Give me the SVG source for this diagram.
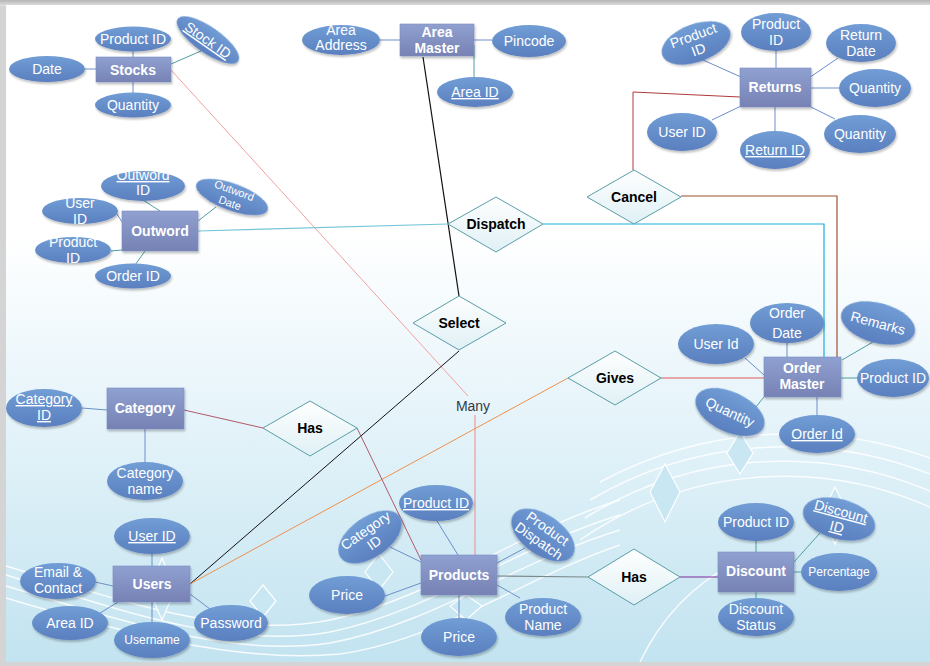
<svg xmlns="http://www.w3.org/2000/svg" width="930" height="666" viewBox="0 0 930 666">
<defs>
<linearGradient id="bg" x1="0" y1="0" x2="0" y2="1">
<stop offset="0" stop-color="#ffffff"/>
<stop offset="0.35" stop-color="#ffffff"/>
<stop offset="0.62" stop-color="#e6f4fa"/>
<stop offset="1" stop-color="#c2e3f0"/>
</linearGradient>
<linearGradient id="ga" x1="0" y1="0" x2="0" y2="1">
<stop offset="0" stop-color="#719dd5"/>
<stop offset="1" stop-color="#5a7fbf"/>
</linearGradient>
<linearGradient id="ge" x1="0" y1="0" x2="0" y2="1">
<stop offset="0" stop-color="#8fa1d1"/>
<stop offset="1" stop-color="#7781b4"/>
</linearGradient>
<linearGradient id="gd" x1="0" y1="0" x2="0" y2="1">
<stop offset="0" stop-color="#ffffff"/>
<stop offset="1" stop-color="#dff0f5"/>
</linearGradient>
<linearGradient id="gtop" x1="0" y1="0" x2="0" y2="1">
<stop offset="0" stop-color="#b5b5b5"/>
<stop offset="1" stop-color="#e2e2e2"/>
</linearGradient>
<filter id="sh" x="-20%" y="-20%" width="140%" height="150%">
<feDropShadow dx="1" dy="2" stdDeviation="1.2" flood-color="#000" flood-opacity="0.25"/>
</filter>
</defs>
<style>
.attr{fill:url(#ga);filter:url(#sh)}
.ent{fill:url(#ge);stroke:#7b8cc0;stroke-width:0.6;filter:url(#sh)}
.rel{fill:url(#gd);stroke:#5a9ea8;stroke-width:1}
.t{font-family:"Liberation Sans",Arial,sans-serif;font-size:14px;fill:#ffffff;text-anchor:middle}
.tb{font-weight:bold}
.tr{fill:#000000;font-weight:bold}
.u{text-decoration:underline}
.ln{stroke:#6b8fc9;stroke-width:1;fill:none}
.lt{stroke:#4f9ea3}
.deco{fill:none;stroke:#ffffff;stroke-width:1.5;opacity:0.85}
.dd{fill:#c9e7f3;stroke:#ffffff;stroke-width:1.2}
</style>

<!-- frame & background -->
<rect x="0" y="0" width="930" height="666" fill="#d4d4d4"/>
<rect x="0" y="0" width="930" height="6" fill="url(#gtop)"/>
<rect x="6" y="5" width="924" height="657" fill="url(#bg)"/>

<!-- decorative arcs -->
<g id="decor">
<path class="deco" d="M6,566 C120,600 230,640 330,620 C430,600 520,530 620,500"/>
<path class="deco" d="M6,575 C120,610 230,650 330,632 C430,612 520,545 620,515"/>
<path class="deco" d="M6,586 C120,620 230,658 330,643 C430,625 520,560 620,530"/>
<path class="deco" d="M6,598 C120,632 240,664 340,654 C440,640 530,575 620,545"/>
<path class="deco" d="M580,540 A360,360 0 0 1 930,507"/>
<path class="deco" d="M585,518 A375,375 0 0 1 930,491"/>
<path class="deco" d="M590,500 A390,390 0 0 1 930,474"/>
<path class="deco" d="M600,482 A405,405 0 0 1 930,458"/>
<path class="deco" d="M640,662 C660,620 690,585 740,560"/>
<polygon class="dd" points="740,432 753,453 740,474 727,453"/>
<polygon class="dd" points="665,464 680,492 665,522 650,492"/>
<polygon class="dd" points="835,487 849,515 835,544 821,515"/>
<polygon class="dd" points="162,558 175,590 162,620 149,590"/>
<polygon class="dd" points="263,585 276,601 263,617 250,601"/>
<polygon class="dd" points="379,554 393,572 379,590 365,572"/>
<polygon class="dd" points="466,595 482,606 466,620 450,606"/>
</g>

<!-- connectors -->
<g id="connectors">
<line x1="171" y1="70" x2="468" y2="396" stroke="#f2a0a0" stroke-width="1"/>
<line x1="475" y1="415" x2="475" y2="555" stroke="#f08a8a" stroke-width="1"/>
<line x1="423" y1="57" x2="459" y2="296" stroke="#111" stroke-width="1.2"/>
<line x1="459" y1="351" x2="190" y2="584" stroke="#111" stroke-width="1"/>
<line x1="198" y1="231" x2="448" y2="224" stroke="#74c5d8" stroke-width="1.2"/>
<polyline points="543,224 824,224 824,361" fill="none" stroke="#1ab0e0" stroke-width="1.2"/>
<polyline points="681,196 837,196 837,357" fill="none" stroke="#a0522d" stroke-width="1.2"/>
<polyline points="633,170 633,92 740,97" fill="none" stroke="#b03a3a" stroke-width="1"/>
<line x1="661" y1="378" x2="764" y2="378" stroke="#e05a5a" stroke-width="1.2"/>
<line x1="568" y1="378" x2="190" y2="584" stroke="#f0904e" stroke-width="1"/>
<line x1="184" y1="410" x2="263" y2="428" stroke="#b05a6a" stroke-width="1"/>
<line x1="357" y1="428" x2="421" y2="560" stroke="#b05a6a" stroke-width="1"/>
<line x1="497" y1="576" x2="588" y2="577" stroke="#7a8a8a" stroke-width="1.2"/>
<line x1="680" y1="577" x2="730" y2="577" stroke="#7a2a9a" stroke-width="1.2"/>
<!-- attribute links -->
<line class="ln" x1="85" y1="69" x2="96" y2="69"/>
<line class="ln" x1="133" y1="51" x2="133" y2="57"/>
<line class="ln" x1="133" y1="82" x2="133" y2="93"/>
<line class="ln lt" x1="171" y1="64" x2="201" y2="51"/>
<line class="ln" x1="380" y1="40" x2="400" y2="40"/>
<line class="ln" x1="474" y1="40" x2="492" y2="40"/>
<line class="ln lt" x1="474" y1="45" x2="474" y2="77"/>
<line class="ln" x1="741" y1="77" x2="703" y2="60"/>
<line class="ln" x1="776" y1="68" x2="776" y2="51"/>
<line class="ln" x1="803" y1="82" x2="838" y2="58"/>
<line class="ln" x1="811" y1="88" x2="839" y2="88"/>
<line class="ln" x1="811" y1="107" x2="835" y2="119"/>
<line class="ln" x1="775" y1="107" x2="775" y2="131"/>
<line class="ln" x1="741" y1="106" x2="712" y2="120"/>
<line class="ln lt" x1="143" y1="200" x2="160" y2="211"/>
<line class="ln" x1="117" y1="214" x2="122" y2="222"/>
<line class="ln lt" x1="111" y1="251" x2="122" y2="250"/>
<line class="ln lt" x1="135" y1="265" x2="145" y2="251"/>
<line class="ln lt" x1="198" y1="221" x2="216" y2="207"/>
<line class="ln" x1="745" y1="358" x2="764" y2="375"/>
<line class="ln" x1="787" y1="343" x2="787" y2="357"/>
<line class="ln lt" x1="842" y1="360" x2="873" y2="342"/>
<line class="ln lt" x1="841" y1="378" x2="858" y2="378"/>
<line class="ln" x1="817" y1="397" x2="817" y2="415"/>
<line class="ln lt" x1="755" y1="408" x2="764" y2="397"/>
<line class="ln" x1="82" y1="408" x2="107" y2="410"/>
<line class="ln" x1="145" y1="429" x2="145" y2="462"/>
<line class="ln" x1="152" y1="554" x2="152" y2="566"/>
<line class="ln" x1="95" y1="582" x2="113" y2="586"/>
<line class="ln" x1="100" y1="613" x2="118" y2="602"/>
<line class="ln" x1="152" y1="602" x2="152" y2="622"/>
<line class="ln" x1="190" y1="594" x2="210" y2="609"/>
<line class="ln" x1="437" y1="521" x2="458" y2="555"/>
<line class="ln" x1="390" y1="547" x2="421" y2="562"/>
<line class="ln" x1="525" y1="548" x2="497" y2="563"/>
<line class="ln" x1="385" y1="596" x2="421" y2="583"/>
<line class="ln" x1="459" y1="595" x2="459" y2="618"/>
<line class="ln" x1="520" y1="598" x2="497" y2="585"/>
<line class="ln lt" x1="756" y1="541" x2="756" y2="552"/>
<line class="ln lt" x1="794" y1="562" x2="820" y2="533"/>
<line class="ln lt" x1="794" y1="572" x2="801" y2="572"/>
<line class="ln lt" x1="756" y1="592" x2="756" y2="598"/>
</g>

<text class="t" x="473" y="411" style="fill:#333a44;font-size:14px">Many</text>

<!-- Stocks -->
<g id="stocks">
<rect class="ent" x="96" y="57" width="75" height="25"/>
<text class="t tb" x="133" y="75">Stocks</text>
<ellipse class="attr" cx="133" cy="39" rx="38" ry="12.5"/>
<text class="t" x="133" y="44">Product ID</text>
<ellipse class="attr" cx="208" cy="40" rx="37" ry="13" transform="rotate(35 208 40)"/>
<text class="t u" x="208" y="45" transform="rotate(35 208 40)">Stock ID</text>
<ellipse class="attr" cx="47" cy="69" rx="38" ry="13"/>
<text class="t" x="47" y="74">Date</text>
<ellipse class="attr" cx="133" cy="105" rx="38" ry="12.5"/>
<text class="t" x="133" y="110">Quantity</text>
</g>

<!-- Area Master -->
<g id="area-master">
<rect class="ent" x="400" y="24" width="74" height="32"/>
<text class="t tb" x="437" y="37">Area</text>
<text class="t tb" x="437" y="53">Master</text>
<ellipse class="attr" cx="341" cy="40" rx="39" ry="15"/>
<text class="t" x="341" y="35">Area</text>
<text class="t" x="341" y="50">Address</text>
<ellipse class="attr" cx="529" cy="41" rx="37" ry="16"/>
<text class="t" x="529" y="46">Pincode</text>
<ellipse class="attr" cx="475" cy="92" rx="38" ry="15"/>
<text class="t u" x="475" y="97">Area ID</text>
</g>

<!-- Returns -->
<g id="returns">
<rect class="ent" x="740" y="68" width="71" height="39"/>
<text class="t tb" x="775" y="92">Returns</text>
<ellipse class="attr" cx="696" cy="43" rx="36" ry="19" transform="rotate(-20 696 43)"/>
<text class="t" transform="rotate(-20 696 43)" x="696" y="40">Product</text>
<text class="t" transform="rotate(-20 696 43)" x="696" y="55">ID</text>
<ellipse class="attr" cx="776" cy="32" rx="35" ry="19"/>
<text class="t" x="776" y="29">Product</text>
<text class="t" x="776" y="45">ID</text>
<ellipse class="attr" cx="861" cy="43" rx="35" ry="19"/>
<text class="t" x="861" y="40">Return</text>
<text class="t" x="861" y="56">Date</text>
<ellipse class="attr" cx="875" cy="88" rx="36" ry="19"/>
<text class="t" x="875" y="93">Quantity</text>
<ellipse class="attr" cx="860" cy="134" rx="36" ry="19"/>
<text class="t" x="860" y="139">Quantity</text>
<ellipse class="attr" cx="775" cy="150" rx="35" ry="19"/>
<text class="t u" x="775" y="155">Return ID</text>
<ellipse class="attr" cx="682" cy="132" rx="35" ry="19"/>
<text class="t" x="682" y="137">User ID</text>
</g>

<!-- Outword -->
<g id="outword">
<rect class="ent" x="122" y="211" width="76" height="40"/>
<text class="t tb" x="160" y="236">Outword</text>
<ellipse class="attr" cx="143" cy="186" rx="42" ry="15"/>
<text class="t u" x="143" y="180">Outword</text>
<text class="t" x="143" y="195">ID</text>
<ellipse class="attr" cx="80" cy="211" rx="38" ry="13"/>
<text class="t" x="80" y="208">User</text>
<text class="t" x="80" y="224">ID</text>
<ellipse class="attr" cx="73" cy="250" rx="38" ry="13"/>
<text class="t" x="73" y="247">Product</text>
<text class="t" x="73" y="263">ID</text>
<ellipse class="attr" cx="133" cy="276" rx="38" ry="12.5"/>
<text class="t" x="133" y="281">Order ID</text>
<ellipse class="attr" cx="232" cy="197" rx="38" ry="13.5" transform="rotate(20 232 197)"/>
<text class="t" style="font-size:11px" transform="rotate(20 232 197)" x="232" y="194">Outword</text>
<text class="t" style="font-size:11px" transform="rotate(20 232 197)" x="232" y="207">Date</text>
</g>

<!-- Relationships -->
<g id="cancel">
<polygon class="rel" points="634,170 681,197 634,224 587,197"/>
<text class="t tr" x="634" y="202">Cancel</text>
</g>
<g id="dispatch">
<polygon class="rel" points="496,197 543,224 496,252 448,224"/>
<text class="t tr" x="496" y="229">Dispatch</text>
</g>
<g id="select">
<polygon class="rel" points="459,296 506,323 459,350 413,323"/>
<text class="t tr" x="459" y="328">Select</text>
</g>
<g id="gives">
<polygon class="rel" points="615,351 661,378 615,405 568,378"/>
<text class="t tr" x="615" y="383">Gives</text>
</g>
<g id="has-category">
<polygon class="rel" points="310,401 357,428 310,456 263,428"/>
<text class="t tr" x="310" y="433">Has</text>
</g>
<g id="has-discount">
<polygon class="rel" points="634,549 680,577 634,605 588,577"/>
<text class="t tr" x="634" y="582">Has</text>
</g>

<!-- Order Master -->
<g id="order-master">
<rect class="ent" x="764" y="357" width="77" height="40"/>
<text class="t tb" x="802" y="373">Order</text>
<text class="t tb" x="802" y="389">Master</text>
<ellipse class="attr" cx="716" cy="344" rx="38" ry="20"/>
<text class="t" x="716" y="349">User Id</text>
<ellipse class="attr" cx="787" cy="323" rx="37" ry="20"/>
<text class="t" x="787" y="318">Order</text>
<text class="t" x="787" y="338">Date</text>
<ellipse class="attr" cx="878" cy="323" rx="38" ry="20" transform="rotate(15 878 323)"/>
<text class="t" transform="rotate(15 878 323)" x="878" y="328">Remarks</text>
<ellipse class="attr" cx="893" cy="378" rx="36" ry="19"/>
<text class="t" x="893" y="383">Product ID</text>
<ellipse class="attr" cx="817" cy="434" rx="38" ry="19"/>
<text class="t u" x="817" y="439">Order Id</text>
<ellipse class="attr" cx="730" cy="412" rx="37" ry="20" transform="rotate(25 730 412)"/>
<text class="t" transform="rotate(25 730 412)" x="730" y="417">Quantity</text>
</g>

<!-- Category -->
<g id="category">
<rect class="ent" x="107" y="388" width="77" height="41"/>
<text class="t tb" x="145" y="413">Category</text>
<ellipse class="attr" cx="44" cy="408" rx="38" ry="19"/>
<text class="t u" x="44" y="404">Category</text>
<text class="t u" x="44" y="420">ID</text>
<ellipse class="attr" cx="145" cy="481" rx="38" ry="19"/>
<text class="t" x="145" y="478">Category</text>
<text class="t" x="145" y="494">name</text>
</g>

<!-- Users -->
<g id="users">
<rect class="ent" x="113" y="566" width="77" height="36"/>
<text class="t tb" x="152" y="589">Users</text>
<ellipse class="attr" cx="152" cy="536" rx="38" ry="18"/>
<text class="t u" x="152" y="541">User ID</text>
<ellipse class="attr" cx="58" cy="581" rx="38" ry="18"/>
<text class="t" x="58" y="577">Email &amp;</text>
<text class="t" x="58" y="593">Contact</text>
<ellipse class="attr" cx="70" cy="623" rx="38" ry="17"/>
<text class="t" x="70" y="628">Area ID</text>
<ellipse class="attr" cx="152" cy="640" rx="38" ry="18"/>
<text class="t" style="font-size:12px" x="152" y="644">Username</text>
<ellipse class="attr" cx="231" cy="623" rx="37" ry="18"/>
<text class="t" x="231" y="628">Password</text>
</g>

<!-- Products -->
<g id="products">
<rect class="ent" x="421" y="555" width="76" height="40"/>
<text class="t tb" x="459" y="580">Products</text>
<ellipse class="attr" cx="436" cy="503" rx="37" ry="18"/>
<text class="t u" x="436" y="508">Product ID</text>
<ellipse class="attr" cx="370" cy="537" rx="36" ry="20" transform="rotate(-35 370 537)"/>
<text class="t" transform="rotate(-35 370 537)" x="370" y="534">Category</text>
<text class="t" transform="rotate(-35 370 537)" x="370" y="549">ID</text>
<ellipse class="attr" cx="543" cy="535" rx="36" ry="20" transform="rotate(35 543 535)"/>
<text class="t" transform="rotate(35 543 535)" x="543" y="532">Product</text>
<text class="t" transform="rotate(35 543 535)" x="543" y="547">Dispatch</text>
<ellipse class="attr" cx="347" cy="595" rx="38" ry="19"/>
<text class="t" x="347" y="600">Price</text>
<ellipse class="attr" cx="459" cy="637" rx="38" ry="19"/>
<text class="t" x="459" y="642">Price</text>
<ellipse class="attr" cx="543" cy="617" rx="38" ry="19"/>
<text class="t" x="543" y="614">Product</text>
<text class="t" x="543" y="630">Name</text>
</g>

<!-- Discount -->
<g id="discount">
<rect class="ent" x="718" y="552" width="76" height="40"/>
<text class="t tb" x="756" y="576">Discount</text>
<ellipse class="attr" cx="756" cy="522" rx="38" ry="19"/>
<text class="t" x="756" y="527">Product ID</text>
<ellipse class="attr" cx="839" cy="519" rx="37" ry="20" transform="rotate(15 839 519)"/>
<text class="t u" transform="rotate(15 839 519)" x="839" y="516">Discount</text>
<text class="t u" transform="rotate(15 839 519)" x="839" y="532">ID</text>
<ellipse class="attr" cx="839" cy="572" rx="38" ry="19"/>
<text class="t" style="font-size:12px" x="839" y="576">Percentage</text>
<ellipse class="attr" cx="756" cy="617" rx="38" ry="19"/>
<text class="t" x="756" y="614">Discount</text>
<text class="t" x="756" y="630">Status</text>
</g>
</svg>
